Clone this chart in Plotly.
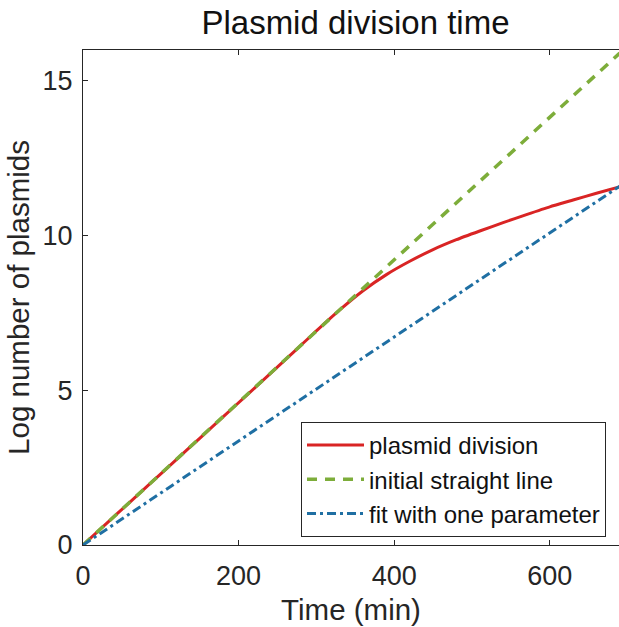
import plotly.graph_objects as go

# Data
t_red = [0, 30, 60, 90, 120, 150, 180, 210, 240, 270, 300, 330, 360, 390, 420, 450,
         480, 510, 540, 570, 600, 630, 660, 690]
y_red = [0, 0.69, 1.38, 2.07, 2.76, 3.45, 4.14, 4.83, 5.52, 6.22, 6.92, 7.6, 8.22, 8.74,
         9.17, 9.55, 9.87, 10.15, 10.42, 10.68, 10.93, 11.15, 11.37, 11.58]

t_green = [0, 690]
y_green = [0, 15.9]

t_blue = [0, 690]
y_blue = [0, 11.6]

x_ticks = [0, 200, 400, 600]
y_ticks = [0, 5, 10, 15]

FONT = "Liberation Sans, Arial, sans-serif"
TXT = "#262626"

fig = go.Figure()
fig.add_trace(go.Scatter(x=t_red, y=y_red, mode="lines", name="plasmid division",
                         line=dict(color="#D92424", width=3, shape="spline", smoothing=0.5)))
fig.add_trace(go.Scatter(x=t_green, y=y_green, mode="lines", name="initial straight line",
                         line=dict(color="#7DAD3A", width=3.5, dash="10px,8px")))
fig.add_trace(go.Scatter(x=t_blue, y=y_blue, mode="lines", name="fit with one parameter",
                         line=dict(color="#1F6FA3", width=3, dash="9px,4px,3px,4px")))

fig.update_layout(
    width=619, height=627,
    margin=dict(l=83, r=0, t=50, b=82),
    paper_bgcolor="white", plot_bgcolor="white",
    font=dict(family=FONT, color=TXT, size=27),
    title=dict(text="Plasmid division time", x=355.5 / 619, xref="container", xanchor="center",
               y=1 - 22 / 627, yref="container", yanchor="middle",
               font=dict(size=33, color="#111111")),
    showlegend=True,
    legend=dict(x=(606 - 83) / 536, y=(545 - 422) / 495, xanchor="right", yanchor="top",
                bgcolor="white", bordercolor="#262626", borderwidth=1,
                font=dict(size=24, color="#111111"), itemwidth=57, tracegroupgap=0),
    xaxis=dict(range=[0, 689], tickvals=x_ticks, ticks="inside", ticklen=5, tickcolor=TXT,
               showline=True, linecolor=TXT, linewidth=1, mirror="ticks", showgrid=False,
               zeroline=False, tickfont=dict(size=27), ticklabelstandoff=7,
               title=dict(text="Time (min)", font=dict(size=29.5), standoff=8)),
    yaxis=dict(range=[0, 16], tickvals=y_ticks, ticks="inside", ticklen=5, tickcolor=TXT,
               showline=True, linecolor=TXT, linewidth=1, mirror=False, showgrid=False,
               zeroline=False, tickfont=dict(size=27), ticklabelstandoff=4,
               title=dict(text="Log number of plasmids", font=dict(size=29.5), standoff=4)),
)

fig.write_html("out.html")
